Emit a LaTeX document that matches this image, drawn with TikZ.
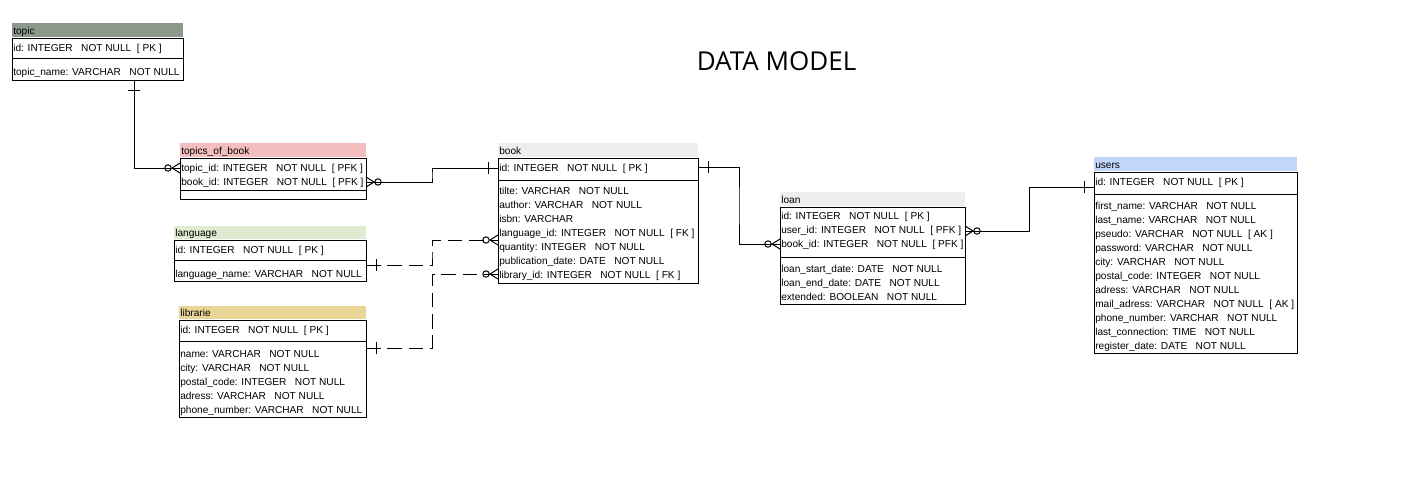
\documentclass[tikz,border=0pt]{standalone}
\usepackage{fontspec}
\setmainfont{Liberation Sans}
\newfontfamily\titlefont{Open Sans}
\usetikzlibrary{fit,calc}
\definecolor{hTopic}{RGB}{142,153,142}
\definecolor{hTob}{RGB}{245,190,190}
\definecolor{hGray}{RGB}{238,238,238}
\definecolor{hUsers}{RGB}{194,215,247}
\definecolor{hLang}{RGB}{224,234,208}
\definecolor{hLib}{RGB}{232,214,150}
\tikzset{
  tbl/.style={draw, line width=0.75pt, inner sep=0pt, outer sep=0pt},
  hdr/.style={inner sep=0pt, outer sep=0pt},
  row/.style={anchor=west, inner sep=0pt, yshift=-1.1pt, font=\fontsize{7.6}{9}\selectfont, text height=5.6pt, text depth=1.6pt},
  conn/.style={line width=0.75pt},
  dconn/.style={conn, dash pattern=on 11pt off 5pt},
  zmanyL/.pic={\draw[conn] (0,-5) -- (-8,0) -- (0,5); \draw[conn] (-12,0) circle[radius=2.4pt];},
  zmanyR/.pic={\draw[conn] (0,-5) -- (8,0) -- (0,5); \draw[conn] (12,0) circle[radius=2.4pt];},
  oneL/.pic={\draw[conn] (-10,-6) -- (-10,6);},
  oneR/.pic={\draw[conn] (10,-6) -- (10,6);},
  oneD/.pic={\draw[conn] (-6,10) -- (6,10);}
}
\begin{document}
\begin{tikzpicture}[x=0.75pt,y=-0.75pt]
\fill[white] (0,0) rectangle (1421,489);
\useasboundingbox (0,0) rectangle (1421,489);

\node[font=\titlefont\fontsize{19.5}{23}\selectfont] (title) at (776.5,61.5) {DATA MODEL};

% topic
\node[hdr, fill=hTopic, fit={(12,23) (183,37)}] (topic-h) {};
\node[row] (topic-t) at (13,30) {topic};
\node[tbl, fit={(12,38) (183,80)}] (topic) {};
\draw[conn] (12,58) -- (183,58);
\node[row] (topic1) at (13,47) {id: INTEGER~~~NOT NULL~~[ PK ]};
\node[row] (topic2) at (13,71) {topic\_name: VARCHAR~~~NOT NULL};

% topics_of_book
\node[hdr, fill=hTob, fit={(180,143) (366,157)}] (tob-h) {};
\node[row] (tob-t) at (181,150) {topics\_of\_book};
\node[tbl, fit={(180,158) (366,199)}] (tob) {};
\draw[conn] (180,190) -- (366,190);
\node[row] (tob1) at (181,167) {topic\_id: INTEGER~~~NOT NULL~~[ PFK ]};
\node[row] (tob2) at (181,181) {book\_id: INTEGER~~~NOT NULL~~[ PFK ]};

% book
\node[hdr, fill=hGray, fit={(498,143) (698,157)}] (book-h) {};
\node[row] (book-t) at (499,150) {book};
\node[tbl, fit={(498,158) (698,283)}] (book) {};
\draw[conn] (498,180) -- (698,180);
\node[row] (book1) at (499,167) {id: INTEGER~~~NOT NULL~~[ PK ]};
\node[row] (book2) at (499,190) {tilte: VARCHAR~~~NOT NULL};
\node[row] (book3) at (499,204) {author: VARCHAR~~~NOT NULL};
\node[row] (book4) at (499,218) {isbn: VARCHAR};
\node[row] (book5) at (499,232) {language\_id: INTEGER~~~NOT NULL~~[ FK ]};
\node[row] (book6) at (499,246) {quantity: INTEGER~~~NOT NULL};
\node[row] (book7) at (499,260) {publication\_date: DATE~~~NOT NULL};
\node[row] (book8) at (499,274) {library\_id: INTEGER~~~NOT NULL~~[ FK ]};

% language
\node[hdr, fill=hLang, fit={(174,226) (366,239)}] (lang-h) {};
\node[row] (lang-t) at (175,232) {language};
\node[tbl, fit={(174,240) (366,281)}] (lang) {};
\draw[conn] (174,260) -- (366,260);
\node[row] (lang1) at (175,249) {id: INTEGER~~~NOT NULL~~[ PK ]};
\node[row] (lang2) at (175,273) {language\_name: VARCHAR~~~NOT NULL};

% librarie
\node[hdr, fill=hLib, fit={(179,306) (366,319)}] (lib-h) {};
\node[row] (lib-t) at (180,312) {librarie};
\node[tbl, fit={(179,320) (366,417)}] (lib) {};
\draw[conn] (179,341) -- (366,341);
\node[row] (lib1) at (180,329) {id: INTEGER~~~NOT NULL~~[ PK ]};
\node[row] (lib2) at (180,353) {name: VARCHAR~~~NOT NULL};
\node[row] (lib3) at (180,367) {city: VARCHAR~~~NOT NULL};
\node[row] (lib4) at (180,381) {postal\_code: INTEGER~~~NOT NULL};
\node[row] (lib5) at (180,395) {adress: VARCHAR~~~NOT NULL};
\node[row] (lib6) at (180,409) {phone\_number: VARCHAR~~~NOT NULL};

% loan
\node[hdr, fill=hGray, fit={(780,192) (965,206)}] (loan-h) {};
\node[row] (loan-t) at (781,199) {loan};
\node[tbl, fit={(780,207) (965,304)}] (loan) {};
\draw[conn] (780,257) -- (965,257);
\node[row] (loan1) at (781,215) {id: INTEGER~~~NOT NULL~~[ PK ]};
\node[row] (loan2) at (781,229) {user\_id: INTEGER~~~NOT NULL~~[ PFK ]};
\node[row] (loan3) at (781,243) {book\_id: INTEGER~~~NOT NULL~~[ PFK ]};
\node[row] (loan4) at (781,268) {loan\_start\_date: DATE~~~NOT NULL};
\node[row] (loan5) at (781,282) {loan\_end\_date: DATE~~~NOT NULL};
\node[row] (loan6) at (781,296) {extended: BOOLEAN~~~NOT NULL};

% users
\node[hdr, fill=hUsers, fit={(1094,157) (1297,171)}] (users-h) {};
\node[row] (users-t) at (1095,164) {users};
\node[tbl, fit={(1094,172) (1297,353)}] (users) {};
\draw[conn] (1094,194) -- (1297,194);
\node[row] (users1) at (1095,181) {id: INTEGER~~~NOT NULL~~[ PK ]};
\node[row] (users2) at (1095,205) {first\_name: VARCHAR~~~NOT NULL};
\node[row] (users3) at (1095,219) {last\_name: VARCHAR~~~NOT NULL};
\node[row] (users4) at (1095,233) {pseudo: VARCHAR~~~NOT NULL~~[ AK ]};
\node[row] (users5) at (1095,247) {password: VARCHAR~~~NOT NULL};
\node[row] (users6) at (1095,261) {city: VARCHAR~~~NOT NULL};
\node[row] (users7) at (1095,275) {postal\_code: INTEGER~~~NOT NULL};
\node[row] (users8) at (1095,289) {adress: VARCHAR~~~NOT NULL};
\node[row] (users9) at (1095,303) {mail\_adress: VARCHAR~~~NOT NULL~~[ AK ]};
\node[row] (users10) at (1095,317) {phone\_number: VARCHAR~~~NOT NULL};
\node[row] (users11) at (1095,331) {last\_connection: TIME~~~NOT NULL};
\node[row] (users12) at (1095,345) {register\_date: DATE~~~NOT NULL};

% connection points
\coordinate (c1a) at ($(topic.south west)+(122,0)$);
\coordinate (c1b) at ($(tob.north west)+(0,10)$);
\coordinate (c2a) at ($(tob.north east)+(0,24)$);
\coordinate (c2b) at ($(book.north west)+(0,10)$);
\coordinate (c3a) at ($(lang.north east)+(0,25)$);
\coordinate (c3b) at ($(book.north west)+(0,82)$);
\coordinate (c4a) at ($(lib.north east)+(0,28)$);
\coordinate (c4b) at ($(book.north west)+(0,116)$);
\coordinate (c5a) at ($(book.north east)+(0,9)$);
\coordinate (c5b) at ($(loan.north west)+(0,37)$);
\coordinate (c6a) at ($(loan.north east)+(0,24)$);
\coordinate (c6b) at ($(users.north west)+(0,15)$);

% connectors
\draw[conn] (c1a) |- (c1b);
\draw[conn] (c2a) -| ($(c2a)!.5!(c2b)$) |- (c2b);
\draw[dconn] (c3a) -| ($(c3a)!.5!(c3b)$) |- (c3b);
\draw[dconn] (c4a) -| ($(c4a)!.5!(c4b)$) |- (c4b);
\draw[conn] (c5a) -| ($(c5a)!.5!(c5b)$) |- (c5b);
\draw[conn] (c6a) -| ($(c6a)!.5!(c6b)$) |- (c6b);

% end marks
\pic at (c1a) {oneD};
\pic at (c1b) {zmanyL};
\pic at (c2a) {zmanyR};
\pic at (c2b) {oneL};
\pic at (c3a) {oneR};
\pic at (c3b) {zmanyL};
\pic at (c4a) {oneR};
\pic at (c4b) {zmanyL};
\pic at (c5a) {oneR};
\pic at (c5b) {zmanyL};
\pic at (c6a) {zmanyR};
\pic at (c6b) {oneL};
\end{tikzpicture}
\end{document}
